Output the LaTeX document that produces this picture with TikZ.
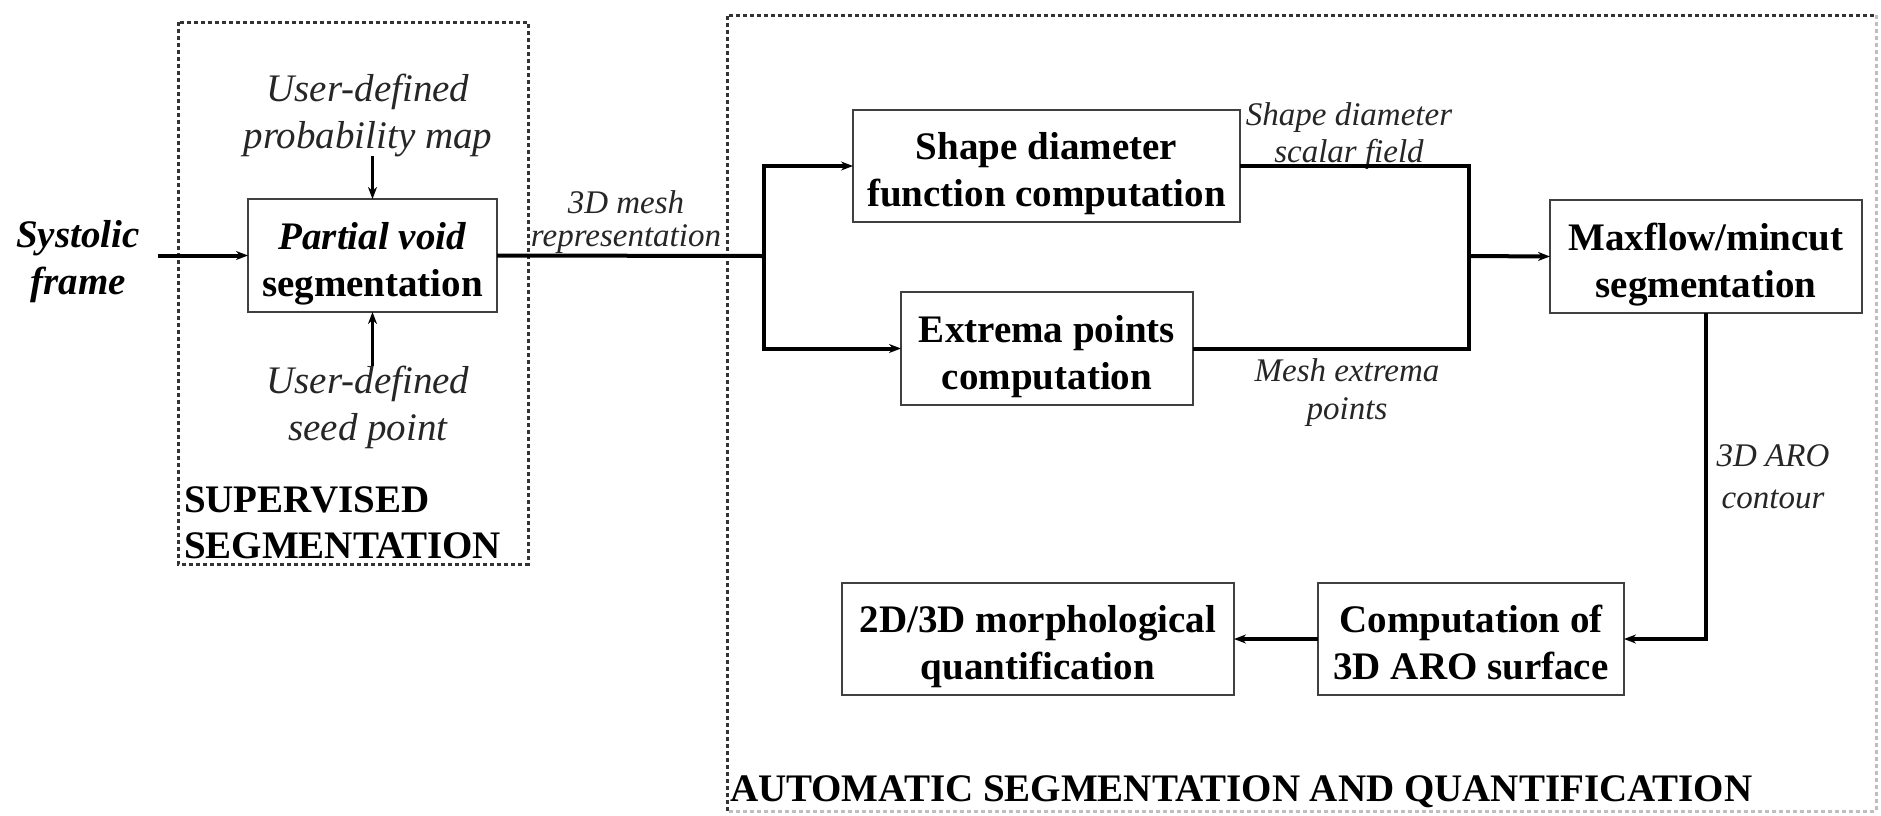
\documentclass[tikz,border=0pt]{standalone}
\usepackage{fontspec}
\setmainfont{Liberation Serif}
\usetikzlibrary{arrows.meta}
\begin{document}
\begin{tikzpicture}[x=0.5pt,y=-0.5pt,
  every node/.style={inner sep=0pt, outer sep=0pt},
  procbox/.style={draw=black!75, line width=1.4pt, align=center,
    text height=45pt, text depth=4.5pt,
    font=\fontsize{19.5}{23.5}\selectfont\bfseries},
  lbl/.style={align=center, text=black!85,
    font=\fontsize{16.5}{19}\selectfont\itshape},
  biglbl/.style={align=center, text=black!85,
    font=\fontsize{19.5}{23.5}\selectfont\itshape},
  conn/.style={line width=2pt, black},
  arr/.style={conn, -{Stealth[length=6pt,width=4.5pt]}},
  groupbox/.style={draw=black!80, line width=1.5pt, dash pattern=on 2pt off 1.5pt},
  grouptitle/.style={align=left, font=\fontsize{19.5}{23}\selectfont\bfseries}]

\fill[white] (0,0) rectangle (1881,815);
\useasboundingbox (0,0) rectangle (1881,815);

% group frames
\draw[groupbox] (178,22) rectangle (528,564);
\draw[groupbox] (727,811) -- (727,15) -- (1876,15);
\draw[groupbox, draw=black!25] (1876,15) -- (1876,811) -- (727,811);

\node[grouptitle, anchor=west] (supt) at (184,523) {SUPERVISED\\SEGMENTATION};
\node[grouptitle, anchor=base west] (autt) at (730,801) {AUTOMATIC SEGMENTATION AND QUANTIFICATION};

% processing blocks
\node[procbox, minimum width=124.5pt, minimum height=56.5pt] (pv) at (372.5,255.5)
  {\textit{Partial void}\\segmentation};
\node[procbox, minimum width=193.5pt, minimum height=56pt] (sd) at (1046.5,166)
  {Shape diameter\\function computation};
\node[procbox, minimum width=146pt, minimum height=56.5pt] (ex) at (1047,348.5)
  {Extrema points\\computation};
\node[procbox, minimum width=156pt, minimum height=56.5pt] (mf) at (1706,256.5)
  {Maxflow/mincut\\segmentation};
\node[procbox, minimum width=153pt, minimum height=56pt] (cs) at (1471,639)
  {Computation of\\3D ARO surface};
\node[procbox, minimum width=196pt, minimum height=56pt] (mq) at (1038,639)
  {2D/3D morphological\\quantification};

% inputs and data labels
\node[align=center, inner xsep=9pt, font=\fontsize{19.5}{23.5}\selectfont\bfseries\itshape] (sys) at (78,262)
  {Systolic\\frame};
\node[biglbl] (pm) at (368,115) {User-defined\\probability map};
\node[biglbl] (sp) at (368,407) {User-defined\\seed point};
\node[lbl, font=\fontsize{16.5}{16.5}\selectfont\itshape] (ml) at (626,222) {3D mesh\\representation};
\node[lbl, font=\fontsize{16.5}{18.5}\selectfont\itshape] (sdl) at (1349,136) {Shape diameter\\scalar field};
\node[lbl] (mel) at (1347,393) {Mesh extrema\\points};
\node[lbl, font=\fontsize{16.5}{21}\selectfont\itshape] (arol) at (1773,477) {3D ARO\\contour};

% connectors
\coordinate (br) at (764,256);
\coordinate (jn) at (1469,256);

\draw[arr] (sys.east |- pv.west) -- (pv.west);
\draw[arr, line width=1.6pt] (pm.south -| pv.north) -- (pv.north);
\draw[arr, line width=1.6pt] (sp.north -| pv.south) -- (pv.south);
\draw[conn] (pv.east) -- (br);
\draw[arr] (br) |- (sd.west);
\draw[arr] (br) |- (ex.west);
\draw[conn] (sd.east) -| (jn);
\draw[conn] (ex.east) -| (jn);
\draw[arr] (jn) -- (mf.west);
\draw[arr] (mf.south) |- (cs.east);
\draw[arr] (cs.west) -- (mq.east);
\end{tikzpicture}
\end{document}
